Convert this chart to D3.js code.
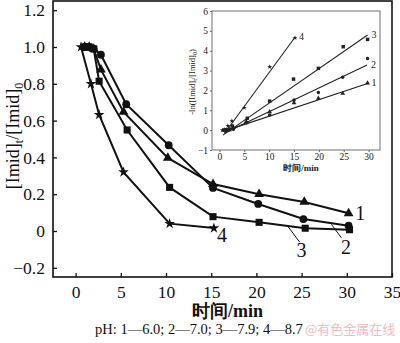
<!DOCTYPE html>
<html><head><meta charset="utf-8">
<script src="https://cdn.jsdelivr.net/npm/d3@7"></script>
<style>body{margin:0;background:#fff}svg{display:block}</style>
</head><body>
<svg id="c" width="400" height="343"></svg>
<script>
// ---- main chart data: [time (min), [Imid]t/[Imid]0]
const s1 = [[1,1.0],[1.5,1.0],[2,0.99],[2.8,0.877],[5.3,0.647],[10.2,0.397],[15.2,0.255],[20.3,0.20],[25.3,0.158],[30.2,0.096]];
const s2 = [[1,1.0],[1.5,1.0],[2,0.99],[2.8,0.958],[5.6,0.689],[10.3,0.466],[15.2,0.234],[20.2,0.147],[25.2,0.065],[30.2,0.029]];
const s3 = [[1,1.0],[1.5,1.0],[2,0.99],[2.6,0.814],[5.7,0.549],[10.4,0.237],[15.2,0.078],[20.3,0.047],[25.4,0.015],[30.3,0.007]];
const s4 = [[0.6,1.0],[1.7,0.80],[2.6,0.632],[5.3,0.32],[10.4,0.04],[15.3,0.016]];
const xTicks = [0,5,10,15,20,25,30,35];
const yTicks = [-0.2,0,0.2,0.4,0.6,0.8,1.0,1.2];
const seriesLabels = ["1","2","3","4"];
// label anchors (data units) and leader lines
const labelPos = [[31.5,0.10],[29.9,-0.087],[25.0,-0.103],[16.2,-0.023]];
const leaders = [null,[[28.3,0.036],[29.4,-0.037]],[[23.5,0.024],[24.8,-0.061]],null];

// ---- inset data: [time, -ln([Imid]t/[Imid]0)]
const i1 = [[1,0],[1.5,0],[2,0.01],[2.8,0.13],[5.4,0.43],[10.1,0.92],[15,1.37],[19.9,1.60],[24.8,1.85],[29.8,2.37]];
const i2 = [[1,0],[1.5,0],[2,0.02],[2.8,0.04],[5.5,0.37],[10.1,0.76],[15,1.51],[19.9,1.90],[24.8,2.66],[29.8,3.61]];
const i3 = [[1,0],[1.5,0.02],[2,0.05],[2.6,0.21],[5.6,0.60],[10.1,1.46],[14.9,2.57],[19.9,3.11],[24.9,4.20],[29.8,4.57]];
const i4 = [[0.6,0],[1.7,0.22],[2.5,0.46],[5,1.13],[10.1,3.19],[15.2,4.65]];
const fit1 = [[1.0,-0.05],[29.8,2.35]];
const fit2 = [[1.0,-0.15],[29.7,3.28]];
const fit3 = [[0.7,-0.25],[29.8,4.79]];
const fit4 = [[1.0,-0.17],[15.2,4.68]];
const insetXTicks = [0,5,10,15,20,25,30];
const insetYTicks = [-1,0,1,2,3,4,5,6];

const serif = "'Liberation Serif','Times New Roman',serif";
const svg = d3.select("#c");

// ---------- main plot ----------
const L=53,R=392,T=1,B=277;
const x = d3.scaleLinear().domain([-2.5,35]).range([L,R]);
const y = d3.scaleLinear().domain([-0.25,1.25]).range([B,T]);

svg.append("rect").attr("x",L).attr("y",T).attr("width",R-L).attr("height",B-T)
  .attr("fill","none").attr("stroke","#111").attr("stroke-width",1.6);

const gx = svg.append("g").attr("transform",`translate(0,${B})`)
  .call(d3.axisBottom(x).tickValues(xTicks).tickSizeInner(-4).tickSizeOuter(0).tickPadding(9).tickFormat(d3.format("d")));
const gy = svg.append("g").attr("transform",`translate(${L},0)`)
  .call(d3.axisLeft(y).tickValues(yTicks).tickSizeInner(-4).tickSizeOuter(0).tickPadding(8)
    .tickFormat(d=> d===0?"0": (d<0?"\u22120.2":d3.format(".1f")(d))));
[gx,gy].forEach(g=>{
  g.select(".domain").remove();
  g.selectAll("line").attr("stroke","#111").attr("stroke-width",1.3);
  g.selectAll("text").attr("font-family",serif).attr("font-size",17.5).attr("fill","#111");
});

const line = d3.line().x(d=>x(d[0])).y(d=>y(d[1]));
const all = [s1,s2,s3,s4];
all.forEach(s=>{
  svg.append("path").attr("d",line(s)).attr("fill","none").attr("stroke","#111").attr("stroke-width",2);
});
const sym = [d3.symbolTriangle,d3.symbolCircle,d3.symbolSquare,d3.symbolStar];
const symSize = [42,48,50,36];
all.forEach((s,i)=>{
  svg.append("g").selectAll("path").data(s).join("path")
    .attr("transform",d=>`translate(${x(d[0])},${y(d[1])})`)
    .attr("d",d3.symbol().type(sym[i]).size(symSize[i]))
    .attr("fill","#111");
});
labelPos.forEach((p,i)=>{
  svg.append("text").attr("x",x(p[0])).attr("y",y(p[1])).attr("dy","0.35em")
    .attr("text-anchor","middle").attr("font-family",serif).attr("font-size",20).attr("fill","#111")
    .text(seriesLabels[i]);
  if(leaders[i]) svg.append("path").attr("d",line(leaders[i])).attr("stroke","#111").attr("stroke-width",1);
});

// axis titles
svg.append("text").attr("x",(L+R)/2+5).attr("y",317).attr("text-anchor","middle")
  .attr("font-family",serif).attr("font-size",18).attr("font-weight","bold").attr("fill","#111").text("时间/min");
const yl = svg.append("text").attr("transform","translate(19,136) rotate(-90)").attr("text-anchor","middle")
  .attr("font-family",serif).attr("font-size",18).attr("fill","#111");
yl.append("tspan").text("[Imid]");
yl.append("tspan").attr("font-size",12).attr("dy",4).text("t");
yl.append("tspan").attr("dy",-4).text("/[Imid]");
yl.append("tspan").attr("font-size",12).attr("dy",4).text("0");

svg.append("text").attr("x",95).attr("y",334).attr("font-family",serif).attr("font-size",14.5).attr("fill","#111")
  .text("pH: 1\u20146.0; 2\u20147.0; 3\u20147.9; 4\u20148.7");
svg.append("text").attr("x",305).attr("y",334).attr("font-family","'Noto Sans CJK SC',sans-serif").attr("font-size",13)
  .attr("fill","#f1bcbc").text("@有色金属在线");

// ---------- inset ----------
const iL=212,iR=380,iT=11,iB=150;
const ix = d3.scaleLinear().domain([-1.5,32.3]).range([iL,iR]);
const iy = d3.scaleLinear().domain([-1,6]).range([iB,iT]);
svg.append("rect").attr("x",iL).attr("y",iT).attr("width",iR-iL).attr("height",iB-iT)
  .attr("fill","#fff").attr("stroke","#888").attr("stroke-width",1.2);
const igx = svg.append("g").attr("transform",`translate(0,${iB})`)
  .call(d3.axisBottom(ix).tickValues(insetXTicks).tickSize(2).tickPadding(1).tickFormat(d3.format("d")));
const igy = svg.append("g").attr("transform",`translate(${iL},0)`)
  .call(d3.axisLeft(iy).tickValues(insetYTicks).tickSize(2).tickPadding(2).tickFormat(d3.format("d")));
[igx,igy].forEach(g=>{
  g.select(".domain").remove();
  g.selectAll("line").attr("stroke","#666");
  g.selectAll("text").attr("font-family",serif).attr("font-size",9.5).attr("fill","#222");
});
svg.append("text").attr("x",(iL+iR)/2+5).attr("y",171).attr("text-anchor","middle")
  .attr("font-family",serif).attr("font-size",9).attr("font-weight","bold").attr("fill","#222").text("时间/min");
const iyl = svg.append("text").attr("transform","translate(195,82) rotate(-90)").attr("text-anchor","middle")
  .attr("font-family",serif).attr("font-size",8.5).attr("fill","#222");
iyl.append("tspan").text("-ln([Imid]");
iyl.append("tspan").attr("font-size",6).attr("dy",2).text("t");
iyl.append("tspan").attr("dy",-2).text("/[Imid]");
iyl.append("tspan").attr("font-size",6).attr("dy",2).text("0");
iyl.append("tspan").attr("dy",-2).text(")");

const iline = d3.line().x(d=>ix(d[0])).y(d=>iy(d[1]));
const fits = [fit1,fit2,fit3,fit4];
fits.forEach((f,i)=>{
  svg.append("path").attr("d",iline(f)).attr("stroke","#222").attr("stroke-width",1.1).attr("fill","none");
  svg.append("text").attr("x",ix(f[1][0])+4).attr("y",iy(f[1][1])).attr("dy","0.3em")
    .attr("font-family",serif).attr("font-size",10).attr("fill","#222").text(seriesLabels[i]);
});
const ins = [i1,i2,i3,i4];
const isz = [10,10,12,8];
ins.forEach((s,i)=>{
  svg.append("g").selectAll("path").data(s).join("path")
    .attr("transform",d=>`translate(${ix(d[0])},${iy(d[1])})`)
    .attr("d",d3.symbol().type(sym[i]).size(isz[i]))
    .attr("fill","#222");
});
</script>
</body></html>
